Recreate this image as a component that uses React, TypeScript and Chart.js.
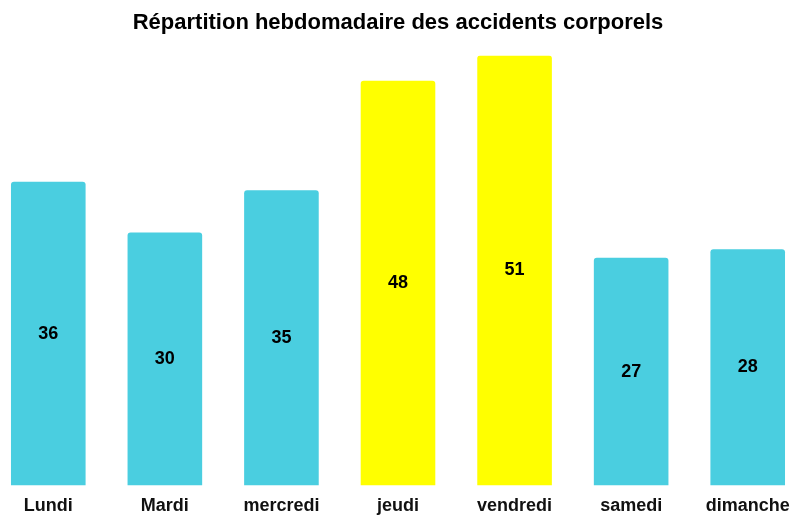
import React, { useEffect, useRef } from "react";
import { Chart, registerables } from "chart.js";

Chart.register(...registerables);

const categories = ["Lundi", "Mardi", "mercredi", "jeudi", "vendredi", "samedi", "dimanche"];
const values = [36, 30, 35, 48, 51, 27, 28];
const highlighted = [false, false, false, true, true, false, false];
const titleText = "Répartition hebdomadaire des accidents corporels";

const CYAN = "#4ACEE0";
const YELLOW = "#FFFF00";
const FONT = "'Liberation Sans', Arial, sans-serif";

const centerLabels = {
  id: "centerLabels",
  afterDatasetsDraw(chart: any) {
    const ctx = chart.ctx;
    const meta = chart.getDatasetMeta(0);
    ctx.save();
    ctx.font = "bold 18px 'Liberation Sans', Arial, sans-serif";
    ctx.fillStyle = "#000";
    ctx.textAlign = "center";
    ctx.textBaseline = "middle";
    meta.data.forEach((bar: any, i: number) => {
      const { x, y, base } = bar.getProps(["x", "y", "base"], true);
      ctx.fillText(String(values[i]), x, (y + base) / 2);
    });
    ctx.restore();
  },
};

export default function App() {
  const ref = useRef<HTMLCanvasElement>(null);
  useEffect(() => {
    if (!ref.current) return;
    const chart = new Chart(ref.current, {
      type: "bar",
      data: {
        labels: categories,
        datasets: [
          {
            data: values,
            backgroundColor: highlighted.map((h) => (h ? YELLOW : CYAN)),
            borderRadius: 3,
            borderSkipped: "start",
            barPercentage: 0.8,
            categoryPercentage: 0.8,
          },
        ],
      },
      options: {
        responsive: false,
        animation: false,
        devicePixelRatio: 1,
        layout: { padding: { top: 0, bottom: 0, left: 0, right: 0 } },
        plugins: {
          legend: { display: false },
          tooltip: { enabled: false },
          title: {
            display: true,
            text: titleText,
            color: "#000",
            font: { family: FONT, size: 22, weight: "bold" },
            padding: { top: 10, bottom: 19 },
          },
        },
        scales: {
          x: {
            grid: { display: false, drawTicks: false },
            border: { display: false },
            ticks: {
              color: "#111",
              padding: 10,
              font: { family: FONT, size: 18, weight: "bold" },
            },
          },
          y: {
            display: false,
            min: 0,
            max: 51,
          },
        },
      },
      plugins: [centerLabels],
    });
    return () => chart.destroy();
  }, []);
  return (
    <div style={{ position: "fixed", left: 0, top: 0, width: 793, height: 516, overflow: "hidden" }}>
      <div style={{ position: "absolute", left: -10, top: 0, width: 816, height: 527 }}>
        <canvas ref={ref} width={816} height={527} style={{ display: "block" }} />
      </div>
    </div>
  );
}
